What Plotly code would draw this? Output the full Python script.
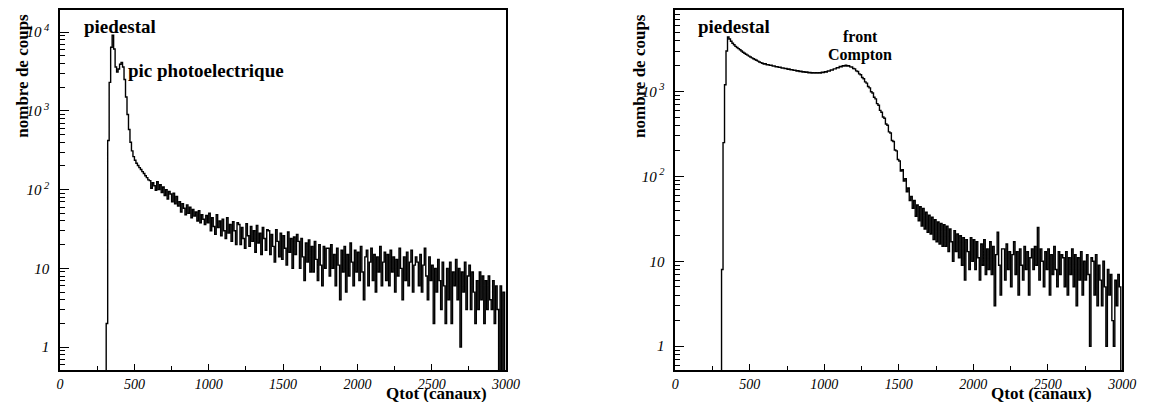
import plotly.graph_objects as go

# ---------------- data ----------------
# histogram bin left edges (channels), 10-channel bins
bin_edges = list(range(310, 3000, 10))
last_edge = 3000

left_counts = [
    # 310-590 (peaks)
    2, 420, 2300, 6400, 9100, 6100, 3600, 3100, 3400, 3900,
    4100, 3600, 2500, 1500, 900, 580, 400, 310, 262, 236,
    216, 202, 190, 180, 169, 160, 150, 142, 133,
    # 600-790
    130, 104, 122, 112, 98, 126, 100, 115, 92, 108, 84, 100, 76, 95, 88, 70, 90, 66, 82, 62,
    # 800-990
    70, 52, 66, 58, 48, 64, 50, 60, 44, 56, 46, 52, 40, 54, 38, 48, 42, 36, 47, 38,
    # 1000-1190
    50, 30, 44, 34, 27, 48, 33, 40, 26, 42, 30, 24, 44, 28, 36, 22, 39, 30, 20, 38,
    # 1200-1390
    36, 20, 33, 24, 18, 37, 26, 19, 34, 22, 30, 16, 35, 21, 28, 15, 33, 24, 17, 31,
    # 1400-1590
    30, 15, 27, 19, 12, 31, 22, 14, 28, 13, 26, 18, 11, 29, 16, 24, 10, 25, 15, 27,
    # 1600-1790
    22, 10, 24, 14, 7, 21, 12, 23, 9, 19, 9, 22, 13, 7, 20, 11, 6, 19, 10, 18,
    # 1800-1990
    18, 8, 20, 10, 15, 6, 18, 11, 4, 17, 9, 19, 5, 15, 8, 21, 12, 6, 17, 9,
    # 2000-2190
    16, 7, 19, 9, 4, 14, 17, 6, 12, 18, 7, 15, 5, 14, 9, 19, 6, 12, 16, 7,
    # 2200-2390
    15, 6, 17, 9, 14, 5, 13, 8, 18, 10, 4, 14, 7, 16, 6, 12, 17, 5, 11, 14,
    # 2400-2590
    12, 6, 15, 5, 11, 18, 8, 4, 14, 7, 11, 2, 10, 5, 13, 7, 3, 12, 6, 2,
    # 2600-2790
    10, 4, 12, 2, 9, 6, 13, 4, 10, 1, 9, 5, 12, 3, 8, 11, 3, 9, 5, 2,
    # 2800-2990
    7, 3, 9, 4, 8, 2, 7, 3, 8, 4, 3, 7, 2, 6, 3, 0.3, 6, 0.3, 5, 0.3,
]

right_counts = [
    # 310-590 (pedestal edge and decay)
    8, 250, 1200, 3000, 4400, 4150, 3900, 3700, 3550, 3400,
    3300, 3200, 3100, 3000, 2900, 2820, 2750, 2680, 2610, 2550,
    2490, 2430, 2380, 2330, 2280, 2230, 2190, 2150, 2110,
    # 600-790
    2120, 2070, 2075, 2030, 2035, 1990, 2000, 1955, 1965, 1925,
    1930, 1890, 1900, 1860, 1870, 1830, 1840, 1800, 1810, 1775,
    # 800-990
    1780, 1745, 1755, 1720, 1730, 1695, 1710, 1680, 1695, 1665,
    1680, 1650, 1670, 1645, 1665, 1645, 1670, 1655, 1685, 1670,
    # 1000-1190 (Compton edge)
    1710, 1700, 1745, 1740, 1790, 1790, 1850, 1845, 1910, 1905,
    1970, 1960, 2015, 1995, 2040, 2000, 2010, 1950, 1945, 1865,
    # 1200-1390
    1845, 1750, 1720, 1615, 1575, 1460, 1415, 1300, 1255, 1145,
    1105, 995, 960, 855, 820, 720, 690, 600, 570, 500,
    # 1400-1590
    485, 415, 400, 335, 325, 265, 258, 205, 200, 158,
    152, 116, 120, 88, 94, 66, 73, 52, 58, 42,
    # 1600-1790
    52, 34, 46, 30, 44, 26, 42, 24, 38, 22, 35, 21, 33, 18, 31, 17, 29, 16, 28, 15,
    # 1800-1990
    27, 15, 26, 13, 24, 17, 10, 23, 13, 21, 11, 20, 9, 19, 6, 18, 13, 8, 19, 10,
    # 2000-2190
    18, 8, 17, 11, 6, 16, 9, 18, 7, 14, 8, 17, 7, 15, 3, 12, 22, 9, 4, 14,
    # 2200-2390
    14, 6, 16, 8, 13, 5, 12, 17, 7, 13, 4, 14, 9, 6, 15, 8, 13, 4, 11, 14,
    # 2400-2590
    8, 15, 9, 25, 6, 14, 10, 5, 13, 8, 14, 4, 12, 7, 15, 8, 5, 13, 7, 12,
    # 2600-2790
    11, 5, 13, 4, 11, 7, 14, 5, 12, 3, 11, 6, 13, 4, 10, 6, 12, 7, 1, 11,
    # 2800-2990
    10, 4, 12, 3, 9, 6, 3, 10, 5, 1, 8, 4, 7, 2, 1, 6, 3, 7, 5, 0.3,
]

x_ticks = [0, 500, 1000, 1500, 2000, 2500, 3000]
left_yticks = [1, 10, 100, 1000, 10000]
left_ytext = ["1", "10", "10<sup> 2</sup>", "10<sup> 3</sup>", "10<sup> 4</sup>"]
right_yticks = [1, 10, 100, 1000]
right_ytext = ["1", "10", "10<sup> 2</sup>", "10<sup> 3</sup>"]

# ---------------- figure ----------------
W, H = 1154, 402
SERIF = "Liberation Serif, Times New Roman, serif"


def steps(edges, vals):
    xs = [edges[0] - 10] + list(edges) + [last_edge]
    ys = [0.3] + list(vals) + [vals[-1]]
    return xs, ys


lx, ly = steps(bin_edges, left_counts)
rx, ry = steps(bin_edges, right_counts)

fig = go.Figure()
fig.add_trace(go.Scatter(x=lx, y=ly, mode="lines", line=dict(color="black", width=1.4, shape="hv"),
                         xaxis="x", yaxis="y", showlegend=False, hoverinfo="skip"))
fig.add_trace(go.Scatter(x=rx, y=ry, mode="lines", line=dict(color="black", width=1.4, shape="hv"),
                         xaxis="x2", yaxis="y2", showlegend=False, hoverinfo="skip"))


def minor_log(lo, hi):
    out = []
    d = lo
    while d < hi:
        for m in range(2, 10):
            v = m * d
            if v < hi:
                out.append(v)
        d *= 10
    return out


tickfont = dict(family=SERIF, size=15, color="black", style="italic")
xtickfont = dict(family=SERIF, size=14, color="black", style="italic")


def xaxis(dom):
    return dict(domain=dom, range=[0, 3000], tickmode="array", tickvals=x_ticks,
                ticktext=[str(v) for v in x_ticks], ticks="inside", ticklen=6, tickwidth=1,
                tickcolor="black", showline=True, linecolor="black", linewidth=1.6, mirror=True,
                showgrid=False, zeroline=False, tickfont=xtickfont, ticklabelstandoff=0,
                minor=dict(ticks="inside", ticklen=4, tickcolor="black", dtick=250, showgrid=False))


def yaxis(anchor, rng, tv, tt):
    return dict(domain=[1 - 370 / H, 1 - 10 / H], type="log", range=rng, anchor=anchor,
                tickmode="array", tickvals=tv, ticktext=tt, ticks="inside", ticklen=9,
                tickwidth=1, tickcolor="black", showline=True, linecolor="black", linewidth=1.6,
                mirror=True, showgrid=False, zeroline=False, tickfont=tickfont,
                ticklabelstandoff=6,
                minor=dict(ticks="inside", ticklen=5, tickcolor="black", tickmode="array",
                           tickvals=minor_log(0.1, 10 ** rng[1]), showgrid=False))


fig.update_layout(
    width=W, height=H, margin=dict(l=0, r=0, t=0, b=0),
    paper_bgcolor="white", plot_bgcolor="white",
    xaxis=dict(**xaxis([57 / W, 510 / W]), anchor="y"),
    yaxis=yaxis("x", [-0.29, 4.28], left_yticks, left_ytext),
    xaxis2=dict(**xaxis([682 / W, 1136 / W]), anchor="y2"),
    yaxis2=yaxis("x2", [-0.28, 3.96], right_yticks, right_ytext),
)

anns = [
    dict(text="<b>piedestal</b>", x=80 / W, y=1 - 26 / H, xanchor="left", size=19),
    dict(text="<b>pic photoelectrique</b>", x=125 / W, y=1 - 70 / H, xanchor="left", size=19),
    dict(text="<b>piedestal</b>", x=704 / W, y=1 - 27 / H, xanchor="left", size=19),
    dict(text="<b>front</b>", x=870 / W, y=1 - 37 / H, xanchor="center", size=16),
    dict(text="<b>Compton</b>", x=870 / W, y=1 - 55 / H, xanchor="center", size=16),
    dict(text="<b>Qtot (canaux)</b>", x=492 / W, y=1 - 393 / H, xanchor="right"),
    dict(text="<b>Qtot (canaux)</b>", x=1106 / W, y=1 - 393 / H, xanchor="right"),
    dict(text="<b>nombre de coups</b>", x=18 / W, y=1 - 76 / H, xanchor="center", textangle=-90),
    dict(text="<b>nombre de coups</b>", x=645 / W, y=1 - 76 / H, xanchor="center", textangle=-90),
]
for a in anns:
    size = a.pop("size", 17)
    fig.add_annotation(xref="paper", yref="paper", showarrow=False, yanchor="middle",
                       borderpad=0, font=dict(family=SERIF, size=size, color="black"), **a)

fig.write_html("out.html", config={"displayModeBar": False},
               post_script="document.body.style.margin='0';document.body.style.overflow='hidden';")
